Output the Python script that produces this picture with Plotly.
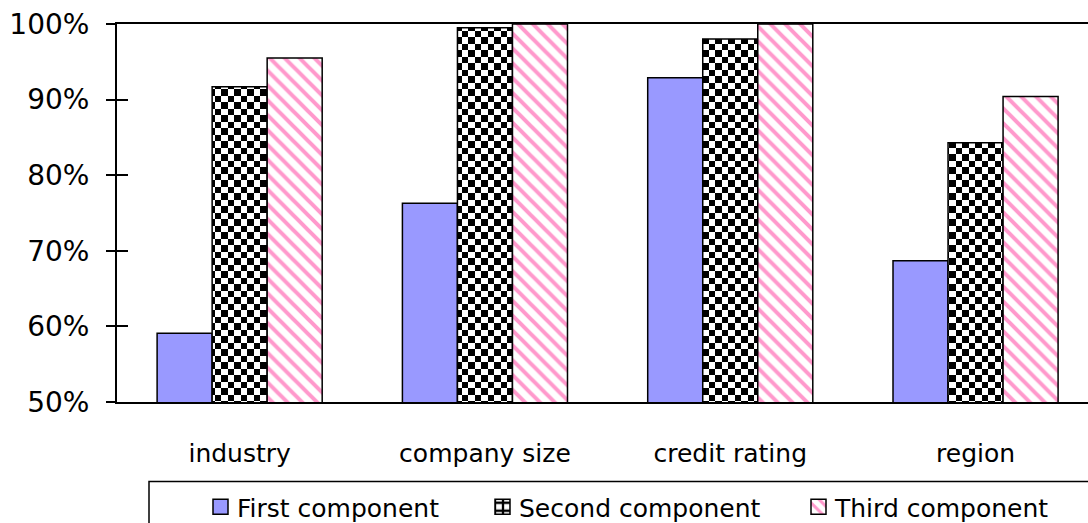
import plotly.graph_objects as go

# Share of variance explained, by grouping variable
categories = ["industry", "company size", "credit rating", "region"]
first_component = [0.591, 0.763, 0.929, 0.687]
second_component = [0.917, 0.995, 0.980, 0.843]
third_component = [0.955, 1.000, 1.000, 0.904]
y_ticks = [0.5, 0.6, 0.7, 0.8, 0.9, 1.0]

FONT = "DejaVu Sans"
W, H = 1088, 523
ML, MT, MB = 117, 24, 121
PLOT_W = W - ML
PLOT_H = H - MT - MB
CAT_PX = 245.3  # pixel width of one category slot

# marker size used for the checkerboard bars; the pattern tile is rebuilt below
CHECKER_SIZE = 13
CHECKER_CELL = 6.5

fig = go.Figure()

fig.add_trace(go.Bar(
    x=categories, y=first_component, name="First component",
    marker=dict(color="#9999FF", line=dict(color="black", width=1.5)),
    legend="legend",
))
fig.add_trace(go.Bar(
    x=categories, y=second_component, name="Second component",
    marker=dict(color="white", line=dict(color="black", width=1.5),
                pattern=dict(shape="+", size=CHECKER_SIZE, solidity=0.5,
                             fgcolor="black", bgcolor="white", fillmode="replace")),
    legend="legend2",
))
fig.add_trace(go.Bar(
    x=categories, y=third_component, name="Third component",
    marker=dict(color="white", line=dict(color="black", width=1.5),
                pattern=dict(shape="\\", size=10.5, solidity=0.38,
                             fgcolor="#FF99CC", bgcolor="white", fillmode="replace")),
    legend="legend3",
))
# empty trace so the inner tick axis gets drawn
fig.add_trace(go.Scatter(x=[], y=[], yaxis="y2", showlegend=False, hoverinfo="skip"))


def px_to_paper_x(px):
    return (px - ML) / PLOT_W


def px_to_paper_y(py):
    return (MT + PLOT_H - py) / PLOT_H


legend_common = dict(
    orientation="h", xref="paper", yref="paper", xanchor="left", yanchor="middle",
    y=px_to_paper_y(507), bgcolor="rgba(0,0,0,0)", borderwidth=0,
    font=dict(family=FONT, size=25, color="black"),
)

fig.update_layout(
    width=W, height=H,
    margin=dict(l=ML, r=0, t=MT, b=MB, autoexpand=False),
    paper_bgcolor="white", plot_bgcolor="white",
    barmode="group", bargap=0.327, bargroupgap=0,
    font=dict(family=FONT, color="black"),
    showlegend=True,
    legend=dict(x=px_to_paper_x(197), **legend_common),
    legend2=dict(x=px_to_paper_x(479), **legend_common),
    legend3=dict(x=px_to_paper_x(795), **legend_common),
    xaxis=dict(
        range=[-0.5, -0.5 + PLOT_W / CAT_PX],
        showline=True, linecolor="black", linewidth=2, mirror=True,
        ticks="", showgrid=False, zeroline=False,
        tickfont=dict(family=FONT, size=25, color="black"),
        ticklabelstandoff=28,
    ),
    yaxis=dict(
        range=[0.5, 1.0], tickvals=y_ticks, tickformat=".0%",
        showline=True, linecolor="black", linewidth=2,
        ticks="outside", ticklen=9, tickwidth=2, tickcolor="black",
        showgrid=False, zeroline=False,
        tickfont=dict(family=FONT, size=28, color="black"),
        ticklabelstandoff=11,
    ),
    yaxis2=dict(
        range=[0.5, 1.0], tickvals=y_ticks, overlaying="y", side="left",
        ticks="inside", ticklen=11, tickwidth=2, tickcolor="black",
        showticklabels=False, showline=False, showgrid=False, zeroline=False,
    ),
    shapes=[dict(
        type="rect", xref="paper", yref="paper",
        x0=px_to_paper_x(149), x1=px_to_paper_x(1100),
        y0=px_to_paper_y(535), y1=px_to_paper_y(481.5),
        line=dict(color="black", width=1.5), fillcolor="rgba(0,0,0,0)",
    )],
)

# Rebuild the "+" pattern tile as a black/white checkerboard and enlarge legend swatches.
post_script = """
(function(){
  var gd = document.getElementById('{plot_id}');
  var NS = 'http://www.w3.org/2000/svg';
  var c = %s, size = %s;
  function fix(){
    document.querySelectorAll('pattern').forEach(function(p){
      if (p.getAttribute('data-checker')) return;
      if (Math.abs(parseFloat(p.getAttribute('width')) - size) > 0.01) return;
      while (p.firstChild) p.removeChild(p.firstChild);
      p.setAttribute('width', 2 * c);
      p.setAttribute('height', 2 * c);
      [[0, 0, 2 * c, '#ffffff'], [0, 0, c, '#000000'], [c, c, c, '#000000']].forEach(function(r){
        var e = document.createElementNS(NS, 'rect');
        e.setAttribute('x', r[0]); e.setAttribute('y', r[1]);
        e.setAttribute('width', r[2]); e.setAttribute('height', r[2]);
        e.setAttribute('fill', r[3]);
        e.setAttribute('shape-rendering', 'crispEdges');
        p.appendChild(e);
      });
      p.setAttribute('data-checker', '1');
    });
    gd.querySelectorAll('.legendpoints path').forEach(function(el){
      el.setAttribute('d', 'M11,7.5H-4V-7.5H11Z');
    });
  }
  fix();
  setTimeout(fix, 50);
  gd.on('plotly_afterplot', function(){ setTimeout(fix, 0); });
})();
""" % (CHECKER_CELL, CHECKER_SIZE)

fig.write_html("out.html", post_script=post_script)
